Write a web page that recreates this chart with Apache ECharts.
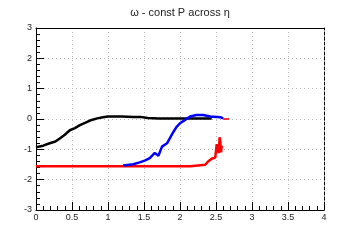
<!DOCTYPE html>
<html>
<head>
<meta charset="utf-8">
<script src="https://cdn.jsdelivr.net/npm/echarts@6/dist/echarts.min.js"></script>
<style>html,body{margin:0;padding:0;background:#fff}#chart1{width:360px;height:240px}</style>
</head>
<body>
<div id="chart1"></div>
<script>
// omega at constant P
var blackX = [0, 0.1, 0.19, 0.27, 0.33, 0.4, 0.47, 0.54, 0.61, 0.68, 0.75, 0.85, 0.93, 1.0, 1.07, 1.2, 1.35, 1.45, 1.55, 1.7, 2.0, 2.2, 2.44];
var blackY = [-0.93, -0.88, -0.8, -0.74, -0.64, -0.52, -0.37, -0.3, -0.2, -0.13, -0.05, 0.02, 0.06, 0.08, 0.08, 0.08, 0.07, 0.07, 0.03, 0.02, 0.02, 0.02, 0.02];
var blueX = [1.21, 1.35, 1.44, 1.51, 1.58, 1.65, 1.70, 1.75, 1.82, 1.86, 1.91, 1.95, 2.0, 2.07, 2.14, 2.23, 2.32, 2.42, 2.56, 2.6];
var blueY = [-1.53, -1.49, -1.43, -1.37, -1.29, -1.12, -1.21, -0.91, -0.8, -0.63, -0.42, -0.27, -0.14, -0.03, 0.08, 0.13, 0.13, 0.08, 0.06, 0.02];
var redX = [0, 1.0, 2.14, 2.25, 2.35, 2.39, 2.44, 2.49, 2.51, 2.51, 2.52, 2.54, 2.55, 2.56, 2.57, 2.58];
var redY = [-1.56, -1.56, -1.56, -1.53, -1.51, -1.4, -1.31, -1.27, -1.23, -0.83, -1.0, -1.12, -0.6, -0.75, -1.1, -0.88];
var redTailX = [2.62, 2.66];
var redTailY = [0.0, 0.0];
var xTicks = [0, 0.5, 1, 1.5, 2, 2.5, 3, 3.5, 4];
var yTicks = [-3, -2, -1, 0, 1, 2, 3];

function pairs(xs, ys) {
    return xs.map(function (x, i) { return [x, ys[i]]; });
}

var myChart = echarts.init(document.getElementById('chart1'));
var labelFont = { fontFamily: 'Liberation Sans', fontSize: 9, color: '#222' };
var option = {
    animation: false,
    title: {
        text: 'ω - const P across η',
        left: 'center',
        top: 2,
        textStyle: { fontFamily: 'Liberation Sans', fontSize: 11, fontWeight: 'normal', color: '#222' }
    },
    grid: { left: 36, right: 36, top: 28, bottom: 30 },
    xAxis: [{
        type: 'value',
        min: xTicks[0], max: xTicks[xTicks.length - 1], interval: 0.5,
        axisLine: { onZero: false, lineStyle: { color: '#000', width: 1 } },
        axisTick: { inside: true, length: 8, lineStyle: { color: '#000' } },
        minorTick: { show: true, splitNumber: 5, length: 4, lineStyle: { color: '#000' } },
        axisLabel: Object.assign({ margin: 3, formatter: function (v) { return String(v); } }, labelFont),
        splitLine: { show: true, lineStyle: { color: '#bbb', type: [1, 3] } }
    }, {
        type: 'value', position: 'top',
        min: 0, max: 4,
        axisLine: { show: true, onZero: false, lineStyle: { color: '#000' } },
        axisTick: { show: false }, axisLabel: { show: false }, splitLine: { show: false }
    }],
    yAxis: [{
        type: 'value',
        min: yTicks[0], max: yTicks[yTicks.length - 1], interval: 1,
        axisLine: { onZero: false, lineStyle: { color: '#000', width: 1 } },
        axisTick: { inside: true, length: 8, lineStyle: { color: '#000' } },
        minorTick: { show: true, splitNumber: 5, length: 4, lineStyle: { color: '#000' } },
        axisLabel: Object.assign({ margin: 4 }, labelFont),
        splitLine: { show: true, lineStyle: { color: '#bbb', type: [1, 3] } }
    }, {
        type: 'value', position: 'right',
        min: -3, max: 3,
        axisLine: { show: true, onZero: false, lineStyle: { color: '#000', type: [3, 2] } },
        axisTick: { show: false }, axisLabel: { show: false }, splitLine: { show: false }
    }],
    series: [
        {
            type: 'line', data: pairs(blackX, blackY), showSymbol: false,
            lineStyle: { color: '#000', width: 2.5 }
        },
        {
            type: 'line', data: pairs(redX, redY), showSymbol: false,
            lineStyle: { color: '#ff0000', width: 2.5 }
        },
        {
            type: 'line', data: pairs(blueX, blueY), showSymbol: false,
            lineStyle: { color: '#0000ff', width: 2.5 }
        },
        {
            type: 'scatter', data: pairs(redTailX, redTailY), symbol: 'rect', symbolSize: [3, 2],
            itemStyle: { color: '#ff0000' }
        }
    ]
};
myChart.setOption(option);
</script>
</body>
</html>
